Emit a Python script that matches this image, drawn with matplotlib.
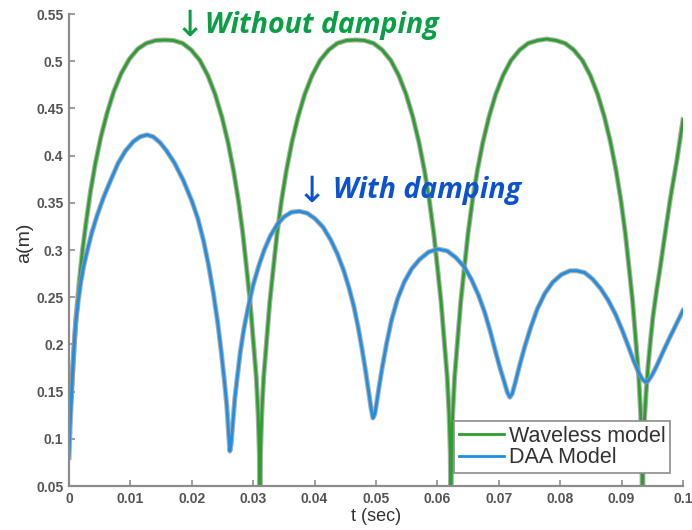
import numpy as np
import matplotlib
matplotlib.use("Agg")
import matplotlib.pyplot as plt
import matplotlib.patheffects as pe
from matplotlib.ticker import FuncFormatter

# Waveless model: undamped amplitude a(m) vs time t (sec)
wl_t = [0.0000, 0.0003, 0.0006, 0.0011, 0.0016, 0.0022, 0.0028, 0.0035, 0.0043, 0.0052,
        0.0062, 0.0073, 0.0085, 0.0098, 0.0112, 0.0126, 0.0141, 0.0156,
        0.0170, 0.0185, 0.0199, 0.0213, 0.0226, 0.0238, 0.0249, 0.0259, 0.0268,
        0.0276, 0.0283, 0.0289, 0.0295, 0.0300, 0.0305, 0.0308, 0.0310, 0.0311,
        0.0312, 0.0314, 0.0317, 0.0322, 0.0327, 0.0333, 0.0339, 0.0346, 0.0354,
        0.0363, 0.0373, 0.0384, 0.0396, 0.0409, 0.0423, 0.0437, 0.0452, 0.0467,
        0.0481, 0.0496, 0.0510, 0.0524, 0.0537, 0.0549, 0.0560, 0.0570, 0.0579,
        0.0587, 0.0594, 0.0600, 0.0606, 0.0611, 0.0616, 0.0619, 0.0621, 0.0622,
        0.0623, 0.0625, 0.0628, 0.0633, 0.0638, 0.0644, 0.0650, 0.0657, 0.0665,
        0.0674, 0.0684, 0.0695, 0.0707, 0.0720, 0.0734, 0.0748, 0.0763, 0.0778,
        0.0793, 0.0808, 0.0822, 0.0836, 0.0849, 0.0861, 0.0872, 0.0882, 0.0891,
        0.0899, 0.0906, 0.0912, 0.0918, 0.0923, 0.0928, 0.0931, 0.0933, 0.0934,
        0.0935, 0.0937, 0.0940, 0.0943, 0.0947, 0.0951, 0.0957, 0.0963, 0.0971,
        0.0979, 0.0990, 0.1000]
wl_a = [0.120, 0.140, 0.172, 0.225, 0.262, 0.300, 0.330, 0.362, 0.392, 0.420,
        0.445, 0.468, 0.487, 0.502, 0.513, 0.519, 0.522, 0.5225,
        0.522, 0.519, 0.512, 0.501, 0.485, 0.465, 0.441, 0.414, 0.384,
        0.352, 0.318, 0.282, 0.245, 0.205, 0.165, 0.127, 0.085, 0.000,
        0.085, 0.127, 0.165, 0.205, 0.245, 0.282, 0.318, 0.352, 0.384,
        0.414, 0.441, 0.465, 0.485, 0.501, 0.512, 0.519, 0.522, 0.5225,
        0.522, 0.519, 0.512, 0.501, 0.485, 0.465, 0.441, 0.414, 0.384,
        0.352, 0.318, 0.282, 0.245, 0.205, 0.165, 0.127, 0.085, 0.000,
        0.085, 0.127, 0.165, 0.205, 0.245, 0.282, 0.318, 0.352, 0.384,
        0.414, 0.441, 0.465, 0.485, 0.501, 0.512, 0.519, 0.522, 0.5235,
        0.522, 0.519, 0.512, 0.501, 0.485, 0.465, 0.441, 0.414, 0.384,
        0.352, 0.318, 0.282, 0.245, 0.205, 0.165, 0.127, 0.085, 0.000,
        0.080, 0.118, 0.150, 0.176, 0.204, 0.229, 0.257, 0.282, 0.318,
        0.353, 0.395, 0.438]

# DAA model: damped amplitude
daa_t = [0.0000, 0.0002, 0.0005, 0.0008, 0.0011, 0.0015, 0.0019, 0.0024, 0.0030, 0.0037,
         0.0046, 0.0057, 0.0068, 0.0080, 0.0092, 0.0105, 0.0116, 0.0127,
         0.0137, 0.0148, 0.0159, 0.0172, 0.0186, 0.0200, 0.0210, 0.0219, 0.0227,
         0.0235, 0.0242, 0.0248, 0.0253, 0.0257, 0.0260, 0.0262, 0.0264, 0.0267,
         0.0270, 0.0274, 0.0279, 0.0285, 0.0292, 0.0300, 0.0309, 0.0318, 0.0328,
         0.0339, 0.0350, 0.0362, 0.0375,
         0.0388, 0.0401, 0.0414, 0.0426, 0.0437, 0.0447, 0.0456, 0.0464, 0.0471,
         0.0477, 0.0483, 0.0488, 0.0492, 0.0495, 0.0498, 0.0501, 0.0505, 0.0510,
         0.0517, 0.0525, 0.0535, 0.0546, 0.0558, 0.0571, 0.0586, 0.0601,
         0.0616, 0.0630, 0.0644, 0.0656, 0.0667, 0.0677, 0.0686, 0.0694, 0.0702,
         0.0709, 0.0714, 0.0718, 0.0722, 0.0727, 0.0734, 0.0742, 0.0752, 0.0763,
         0.0775, 0.0788, 0.0802, 0.0816, 0.0827,
         0.0840, 0.0853, 0.0866, 0.0878, 0.0890, 0.0901, 0.0911, 0.0920, 0.0928,
         0.0934, 0.0939, 0.0944, 0.0950, 0.0957, 0.0966, 0.0976, 0.0988, 0.1000]
daa_a = [0.080, 0.115, 0.159, 0.196, 0.223, 0.246, 0.265, 0.283, 0.300, 0.318,
         0.337, 0.357, 0.374, 0.392, 0.405, 0.415, 0.420, 0.422,
         0.420, 0.414, 0.405, 0.392, 0.374, 0.352, 0.333, 0.310, 0.285,
         0.255, 0.224, 0.192, 0.162, 0.135, 0.105, 0.087, 0.094, 0.118,
         0.142, 0.165, 0.192, 0.217, 0.240, 0.263, 0.283, 0.300, 0.315,
         0.327, 0.335, 0.340, 0.341,
         0.339, 0.333, 0.324, 0.311, 0.296, 0.279, 0.260, 0.240, 0.218,
         0.196, 0.172, 0.150, 0.132, 0.122, 0.126, 0.138, 0.155, 0.175,
         0.200, 0.225, 0.248, 0.266, 0.280, 0.290, 0.298, 0.301,
         0.299, 0.292, 0.282, 0.268, 0.252, 0.234, 0.214, 0.194, 0.175,
         0.160, 0.149, 0.144, 0.148, 0.160, 0.178, 0.197, 0.218, 0.238,
         0.254, 0.266, 0.274, 0.278, 0.278,
         0.276, 0.269, 0.259, 0.247, 0.232, 0.215, 0.198, 0.182, 0.170,
         0.163, 0.160, 0.162, 0.168, 0.177, 0.190, 0.204, 0.220, 0.236]

x_ticks = np.arange(0, 0.1001, 0.01)
y_ticks = np.arange(0.05, 0.5501, 0.05)

axis_grey = "#8c8c8c"
label_grey = "#555555"

plt.rcParams["font.family"] = ["Liberation Sans", "DejaVu Sans"]

fig = plt.figure(figsize=(6.92, 5.30), dpi=100)
ax = fig.add_axes([69 / 692, 1 - 486 / 530, 614 / 692, 472 / 530])

halo = [pe.Stroke(linewidth=3.6, foreground="#9a9a9a", alpha=0.8), pe.Normal()]
ax.plot(wl_t, wl_a, color="#2ca02c", lw=2.0, label="Waveless model",
        path_effects=halo, solid_joinstyle="round")
ax.plot(daa_t, daa_a, color="#1e8fe6", lw=2.0, label="DAA Model",
        path_effects=halo, solid_joinstyle="round")

ax.set_xlim(0, 0.1)
ax.set_ylim(0.05, 0.55)
ax.set_xticks(x_ticks)
ax.set_yticks(y_ticks)
fmt = FuncFormatter(lambda v, p: "%g" % round(v, 3))
ax.xaxis.set_major_formatter(fmt)
ax.yaxis.set_major_formatter(fmt)

for side in ["top", "right"]:
    ax.spines[side].set_visible(False)
for side in ["left", "bottom"]:
    ax.spines[side].set_color(axis_grey)
    ax.spines[side].set_linewidth(1.6)

ax.tick_params(direction="in", length=4, width=1.2, color=axis_grey,
               labelsize=10, labelcolor=label_grey, pad=4)
for lbl in ax.get_xticklabels() + ax.get_yticklabels():
    lbl.set_fontweight("bold")

ax.set_xlabel("t (sec)", fontsize=13, color="#333333", labelpad=2)
ax.set_ylabel("a(m)", fontsize=14, color="#333333")
ax.yaxis.set_label_coords(-0.058, 0.515)

leg = ax.legend(loc="lower right", fontsize=15.5, fancybox=False, framealpha=1,
                edgecolor="#8c8c8c", handlelength=2.1, handletextpad=0.2,
                borderpad=0.22, labelspacing=0.02, borderaxespad=0.6)
leg.get_frame().set_linewidth(1.2)
for line in leg.get_lines():
    line.set_path_effects([])
for txt in leg.get_texts():
    txt.set_color("#333333")

# arrow markers and labels for the two curves
ann_font = ["Open Sans", "DejaVu Sans"]
green_txt = "#0a9e45"
blue_txt = "#0a52d0"
ax.text(0.0172, 0.537, "\u2193", color=green_txt, fontsize=26, family="DejaVu Sans",
        va="center", ha="left")
ax.text(0.0222, 0.538, "Without damping", color=green_txt, fontsize=20.5,
        fontweight="bold", fontstyle="italic", family=ann_font, va="center", ha="left")
ax.text(0.0370, 0.362, "\u2193", color=blue_txt, fontsize=26, family="DejaVu Sans",
        va="center", ha="left")
ax.text(0.0430, 0.363, "With damping", color=blue_txt, fontsize=20.5,
        fontweight="bold", fontstyle="italic", family=ann_font, va="center", ha="left")

fig.savefig("out.png", dpi=100)
